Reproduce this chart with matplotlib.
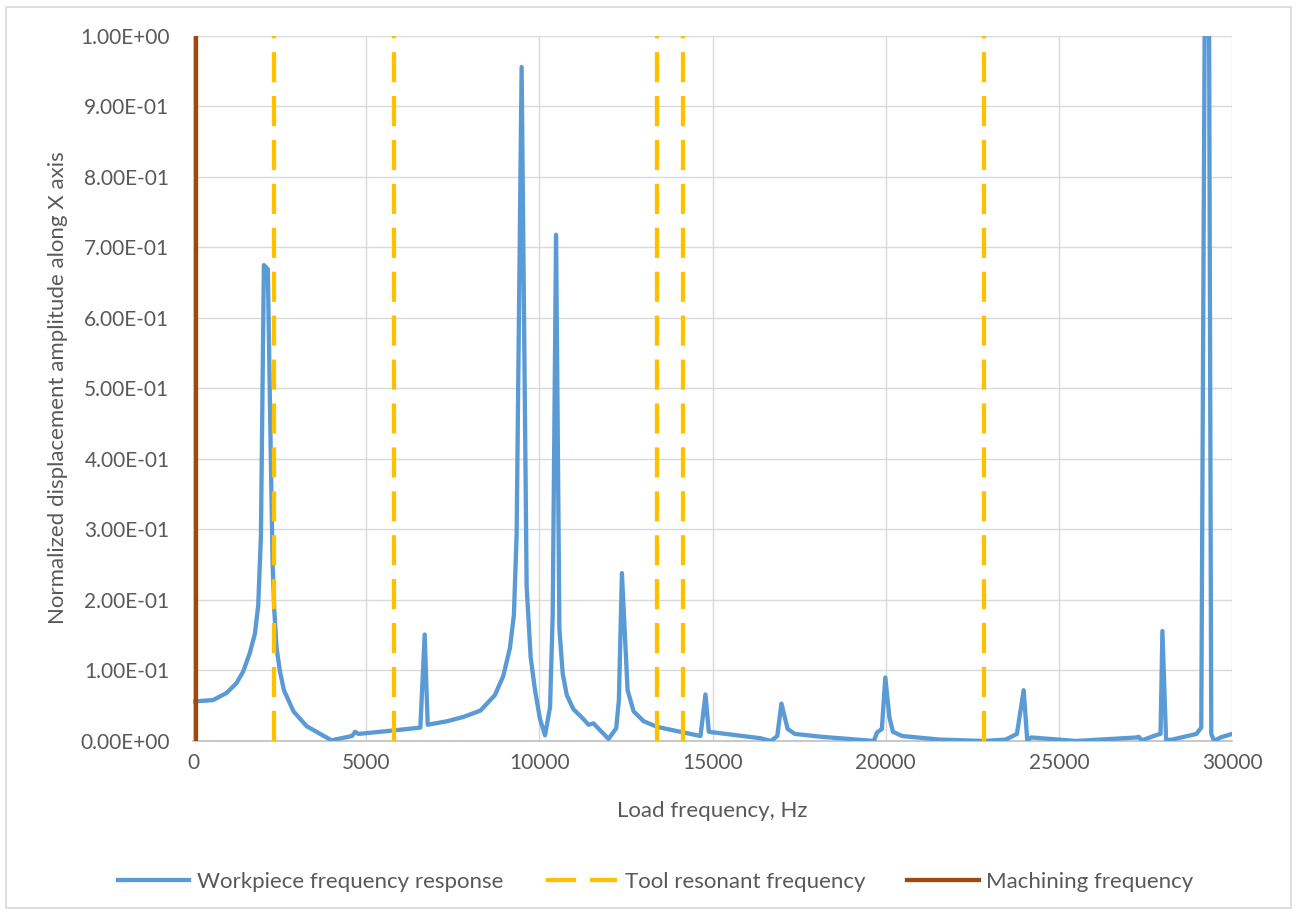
import matplotlib
matplotlib.use("Agg")
import matplotlib.pyplot as plt
from matplotlib.patches import Rectangle

# workpiece frequency response
freq = [0, 300, 580, 965, 1255, 1448, 1641, 1786, 1882, 1960, 2046, 2160,
        2240, 2297, 2346, 2413, 2510, 2625, 2900, 3280, 3670, 4000, 4590,
        4680, 4780, 5400, 6000, 6564, 6689, 6776, 7340, 7800, 8296, 8716,
        8958, 9151, 9266, 9344, 9488, 9633, 9749, 9875, 10019, 10164, 10309,
        10386, 10483, 10579, 10676, 10792, 10985, 11274, 11419, 11564, 11757,
        11998, 12220, 12297, 12384, 12548, 12722, 13012, 13400, 14070, 14653,
        14797, 14894, 16370, 16690, 16870, 16990, 17170, 17380, 18130, 19660,
        19750, 19890, 19990, 20110, 20210, 20480, 21550, 22830, 23470, 23790,
        23985, 24090, 24200, 25500, 27265, 27300, 27404, 27853, 27938, 27991,
        28098, 28280, 28974, 29113, 29210, 29340, 29402, 29487, 29669, 30000]
amplitude = [0.056, 0.057, 0.058, 0.068, 0.082, 0.0985, 0.125, 0.152, 0.192,
             0.29, 0.675, 0.669, 0.42, 0.253, 0.186, 0.132, 0.0985, 0.072,
             0.042, 0.021, 0.010, 0.001, 0.007, 0.013, 0.010, 0.013, 0.016,
             0.019, 0.151, 0.023, 0.028, 0.034, 0.043, 0.065, 0.092, 0.132,
             0.179, 0.293, 0.956, 0.219, 0.119, 0.072, 0.031, 0.008, 0.048,
             0.179, 0.718, 0.159, 0.095, 0.065, 0.045, 0.031, 0.023, 0.025,
             0.015, 0.003, 0.018, 0.058, 0.238, 0.072, 0.042, 0.028, 0.020,
             0.013, 0.007, 0.066, 0.013, 0.004, 0.000, 0.007, 0.053, 0.017,
             0.010, 0.006, 0.000, 0.012, 0.017, 0.090, 0.033, 0.013, 0.007,
             0.002, 0.000, 0.002, 0.010, 0.072, 0.000, 0.005, 0.000, 0.005,
             0.006, 0.001, 0.009, 0.010, 0.156, 0.001, 0.002, 0.010, 0.019,
             1.0, 1.0, 0.010, 0.000, 0.005, 0.010]

tool_freqs = [2340, 5810, 13410, 14160, 22830]
machining_freq = 100

BLUE = "#5B9BD5"
GOLD = "#FFC000"
BROWN = "#9E480E"
GRID = "#D9D9D9"
TEXT = "#595959"

plt.rcParams['font.family'] = ['Lato', 'DejaVu Sans']

fig = plt.figure(figsize=(12.99, 9.15), dpi=100)
ax = fig.add_axes([0.1486, 0.1902, 0.7998, 0.7705])

ax.plot(freq, amplitude, color=BLUE, lw=3.1, solid_joinstyle='round',
        label='Workpiece frequency response', zorder=3)
for i, f in enumerate(tool_freqs):
    ax.plot([f, f], [0, 1], color=GOLD, lw=3.1, dashes=(7.0, 3.2),
            dash_capstyle='butt', zorder=4,
            label='Tool resonant frequency' if i == 0 else None)
ax.plot([machining_freq, machining_freq], [0, 1], color=BROWN, lw=3.1,
        label='Machining frequency', zorder=5)

ax.set_xlim(0, 30000)
ax.set_ylim(0, 1)
ax.set_xticks(range(0, 30001, 5000))
ax.set_yticks([i / 10 for i in range(11)])
ax.set_yticklabels([format(i / 10, '.2E') for i in range(11)])
ax.grid(True, color=GRID, lw=1.0, zorder=0)
ax.set_axisbelow(True)
for side in ['left', 'right', 'top']:
    ax.spines[side].set_visible(False)
ax.spines['bottom'].set_color('#BFBFBF')
ax.spines['bottom'].set_linewidth(1.2)
ax.tick_params(length=0, labelsize=15, labelcolor=TEXT)
ax.tick_params(axis='y', pad=17)
ax.tick_params(axis='x', pad=9)

fig.text(0.5486, 0.1137, 'Load frequency, Hz', ha='center', va='center',
         fontsize=16, color=TEXT)
fig.text(0.0447, 0.576, 'Normalized displacement amplitude along X axis',
         ha='center', va='center', rotation=90, fontsize=16, color=TEXT)

fig.legend(loc='center', bbox_to_anchor=(0.505, 0.036), ncol=3, frameon=False,
           fontsize=16, labelcolor=TEXT, handlelength=3.2, handletextpad=0.35,
           columnspacing=1.9)

fig.patches.append(Rectangle((0.0046, 0.0077), 0.989, 0.985,
                             transform=fig.transFigure, fill=False,
                             edgecolor=GRID, lw=1.2))

fig.savefig('out.png', dpi=100)
